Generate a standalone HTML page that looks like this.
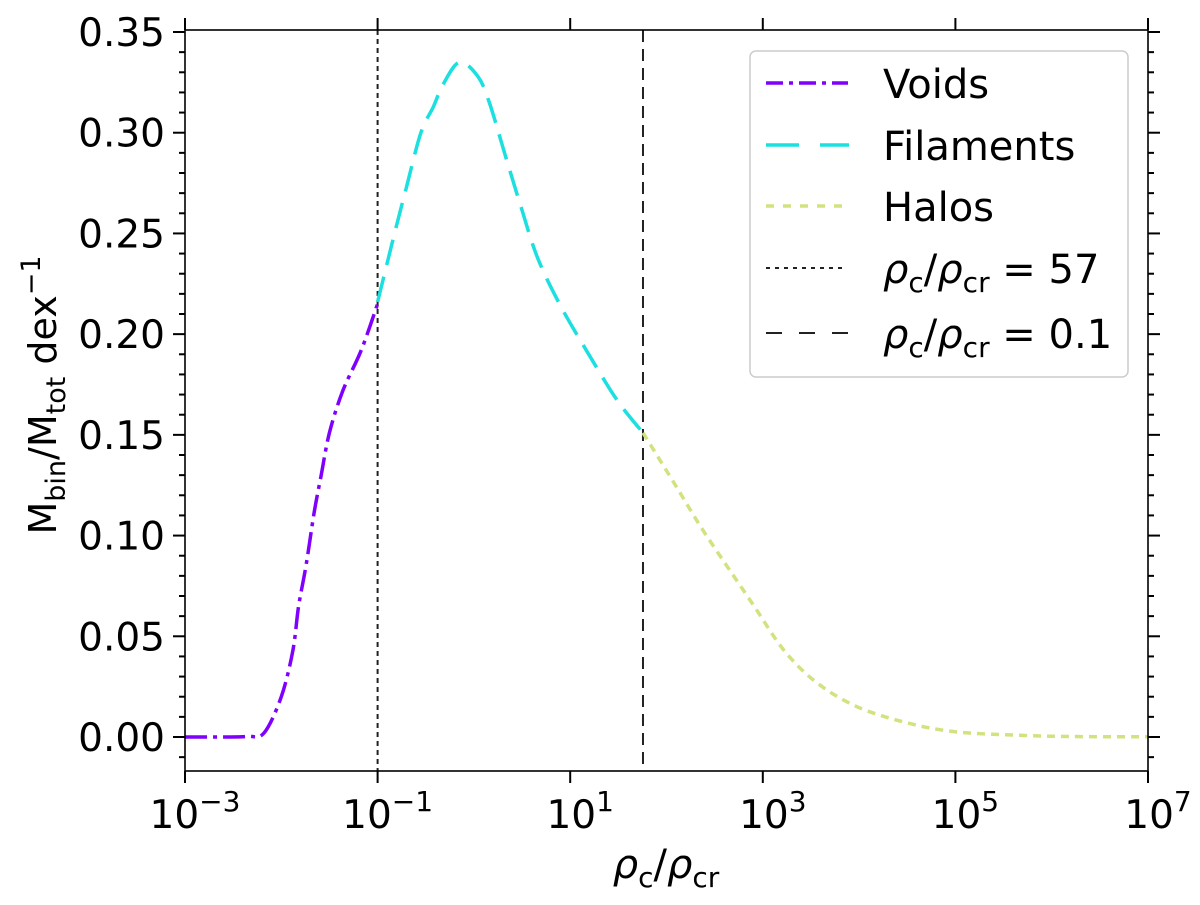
<!DOCTYPE html>
<html><head><meta charset="utf-8"><style>
body{margin:0;background:#fff;}
svg text{font-family:"DejaVu Sans","Liberation Sans",sans-serif;fill:#000;}
</style></head><body>
<svg id="chart" width="1200" height="900" xmlns="http://www.w3.org/2000/svg">
<g id="plot"></g>
<g>
<text x="666" y="878" text-anchor="middle" font-size="40"><tspan font-style="italic">ρ</tspan><tspan font-size="28" dy="9">c</tspan><tspan dy="-9">/</tspan><tspan font-style="italic">ρ</tspan><tspan font-size="28" dy="9">cr</tspan></text>
<text transform="translate(56,395) rotate(-90)" text-anchor="middle" font-size="38">M<tspan font-size="27" dy="9">bin</tspan><tspan dy="-9">/M</tspan><tspan font-size="27" dy="9">tot</tspan><tspan dy="-9"> dex</tspan><tspan font-size="27" dy="-16">−1</tspan></text>
</g>
<g>
<rect x="750" y="51" width="378" height="326" rx="6" fill="#fff" stroke="#ccc" stroke-width="1.5"/>
<line x1="766" y1="83" x2="848" y2="83" stroke="#7f00ff" stroke-width="3.5" stroke-dasharray="17,6,4,6"/>
<text x="883" y="98" font-size="40">Voids</text>
<line x1="766" y1="145" x2="849" y2="145" stroke="#1cdfe0" stroke-width="3.5" stroke-dasharray="33,21"/>
<text x="883" y="160" font-size="40">Filaments</text>
<line x1="766" y1="206" x2="842" y2="206" stroke="#d4e17f" stroke-width="3.5" stroke-dasharray="8,9"/>
<text x="883" y="221" font-size="40">Halos</text>
<line x1="766" y1="268" x2="842" y2="268" stroke="#222" stroke-width="2" stroke-dasharray="4,5"/>
<text x="883" y="283" font-size="40"><tspan font-style="italic">ρ</tspan><tspan font-size="28" dy="9">c</tspan><tspan dy="-9">/</tspan><tspan font-style="italic">ρ</tspan><tspan font-size="28" dy="9">cr</tspan><tspan dy="-9"> = 57</tspan></text>
<line x1="766" y1="333" x2="849" y2="333" stroke="#222" stroke-width="2" stroke-dasharray="16,17"/>
<text x="883" y="348" font-size="40"><tspan font-style="italic">ρ</tspan><tspan font-size="28" dy="9">c</tspan><tspan dy="-9">/</tspan><tspan font-style="italic">ρ</tspan><tspan font-size="28" dy="9">cr</tspan><tspan dy="-9"> = 0.1</tspan></text>
</g>
</svg>
<script>
const voidX=[-3,-2.6,-2.35,-2.18,-2.0,-1.88,-1.82,-1.74,-1.66,-1.59,-1.50,-1.36,-1.17,-1.0];
const voidY=[0,0,0.0003,0.002,0.020,0.043,0.065,0.086,0.111,0.129,0.151,0.172,0.192,0.215];
const filX=[-1.0,-0.84,-0.70,-0.55,-0.42,-0.32,-0.15,0.04,0.16,0.33,0.49,0.66,0.90,1.18,1.49,1.756];
const filY=[0.216,0.247,0.273,0.300,0.313,0.324,0.335,0.328,0.315,0.288,0.263,0.238,0.214,0.191,0.167,0.151];
const haloX=[1.756,2.08,2.36,2.64,2.91,3.22,3.56,3.98,4.5,5.02,5.7,6.3,7.0];
const haloY=[0.151,0.126,0.104,0.084,0.065,0.043,0.027,0.015,0.007,0.0025,0.0008,0.0002,0.0001];
const vlines=[-1,Math.log10(57)];
const yTicks=[0,0.05,0.1,0.15,0.2,0.25,0.3,0.35];
const yTickLabels=["0.00","0.05","0.10","0.15","0.20","0.25","0.30","0.35"];
const xTicks=[-3,-1,1,3,5,7];
const xTickLabels=["−3","−1","1","3","5","7"];
const L=185,R=1148,T=30,B=771;
const xs=v=>L+(v+3)/10*(R-L);
const ys=v=>737-v*(737-32)/0.35;
const NS="http://www.w3.org/2000/svg";
const g=document.getElementById('plot');
function mk(tag,at,par){const e=document.createElementNS(NS,tag);for(const k in at)e.setAttribute(k,at[k]);(par||g).appendChild(e);return e;}
function series(X,Y,color,dash,name){
  const P=X.map((x,i)=>[xs(x),ys(Y[i])]);
  let d='M'+P[0][0].toFixed(1)+','+P[0][1].toFixed(1);
  for(let i=0;i<P.length-1;i++){
    const p0=P[Math.max(0,i-1)],p1=P[i],p2=P[i+1],p3=P[Math.min(P.length-1,i+2)];
    const c1=[p1[0]+(p2[0]-p0[0])/6,p1[1]+(p2[1]-p0[1])/6];
    const c2=[p2[0]-(p3[0]-p1[0])/6,p2[1]-(p3[1]-p1[1])/6];
    d+='C'+c1.map(v=>v.toFixed(1)).join(',')+' '+c2.map(v=>v.toFixed(1)).join(',')+' '+p2.map(v=>v.toFixed(1)).join(',');
  }
  const p=mk('path',{d:d,fill:'none',stroke:color,'stroke-width':3.5,'stroke-dasharray':dash,'stroke-linejoin':'round'});
  
  
}
vlines.forEach((v,i)=>{
  const l=mk('line',{x1:xs(v),x2:xs(v),y1:T,y2:B,stroke:'#222','stroke-width':2,'stroke-dasharray':i==0?'5,4':'12,7'});
  
  
});
series(voidX,voidY,'#7f00ff','22,6,4,6','voids-line');
series(filX,filY,'#1cdfe0','26,12','filaments-line');
series(haloX,haloY,'#d4e17f','8,6','halos-line');
const fr=mk('rect',{x:L,y:T,width:R-L,height:B-T,fill:'none',stroke:'#000','stroke-width':1.6});


for(let k=-1;k<=35;k++){const v=k/100,y=ys(v);if(y>B||y<T)continue;const maj=k%5==0;const len=maj?12:6;
  const a=mk('line',{x1:L-len,x2:L,y1:y,y2:y,stroke:'#000','stroke-width':2});
  
  
  const b=mk('line',{x1:R,x2:R+len,y1:y,y2:y,stroke:'#000','stroke-width':2});
  
  }
yTicks.forEach((v,i)=>{const t=mk('text',{x:L-20,y:ys(v)+14,'text-anchor':'end','font-size':39});t.textContent=yTickLabels[i];
  
  });
xTicks.forEach((v,i)=>{const x=xs(v);
  const a=mk('line',{x1:x,x2:x,y1:B,y2:B+12,stroke:'#000','stroke-width':2});
  
  
  const b=mk('line',{x1:x,x2:x,y1:T-12,y2:T,stroke:'#000','stroke-width':2});
  
  
  const t=mk('text',{x:x+10,y:B+57,'text-anchor':'middle','font-size':39});t.innerHTML='10<tspan dy="-17" font-size="28">'+xTickLabels[i]+'</tspan>';
  
  });
</script>
</body></html>
